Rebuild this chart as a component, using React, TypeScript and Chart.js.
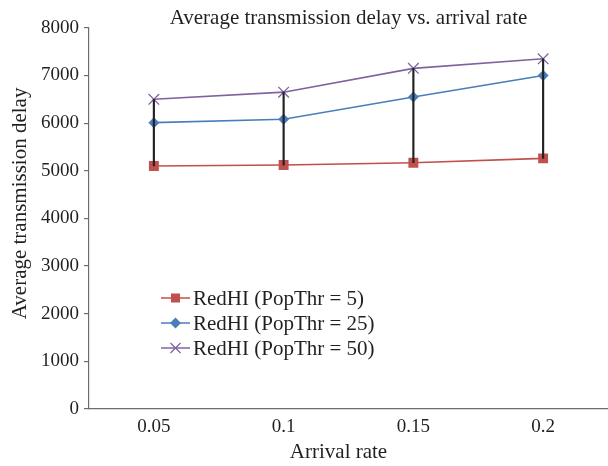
import React, { useEffect, useRef } from "react";
import { Chart, registerables } from "chart.js";

Chart.register(...registerables);

const categories = ["0.05", "0.1", "0.15", "0.2"];
const popThr5 = [5100, 5120, 5170, 5260];
const popThr25 = [6010, 6080, 6550, 7000];
const popThr50 = [6500, 6650, 7150, 7350];
const yTickValues = [0, 1000, 2000, 3000, 4000, 5000, 6000, 7000, 8000];

const seriesLabels = ["RedHI (PopThr = 5)", "RedHI (PopThr = 25)", "RedHI (PopThr = 50)"];
const seriesColors = ["#C0504D", "#4A7EBB", "#7F63A1"];
const xAxisTitle = "Arrival rate";
const yAxisTitle = "Average transmission delay";
const chartTitle = "Average transmission delay vs. arrival rate";

const FONT = "'Liberation Serif', 'DejaVu Serif', serif";
const TEXT = "#231F20";

function drawMarker(ctx: CanvasRenderingContext2D, style: string, x: number, y: number, color: string) {
  ctx.save();
  if (style === "rect") {
    ctx.fillStyle = color;
    ctx.fillRect(x - 4.5, y - 4.5, 9, 9);
  } else if (style === "rectRot") {
    ctx.fillStyle = color;
    ctx.beginPath();
    ctx.moveTo(x, y - 5.5);
    ctx.lineTo(x + 5.5, y);
    ctx.lineTo(x, y + 5.5);
    ctx.lineTo(x - 5.5, y);
    ctx.closePath();
    ctx.fill();
  } else {
    ctx.strokeStyle = color;
    ctx.lineWidth = 1.3;
    ctx.beginPath();
    ctx.moveTo(x - 5, y - 5);
    ctx.lineTo(x + 5, y + 5);
    ctx.moveTo(x + 5, y - 5);
    ctx.lineTo(x - 5, y + 5);
    ctx.stroke();
  }
  ctx.restore();
}

const textPlugin = {
  id: "textPlugin",
  afterDraw(chart: any) {
    const ctx = chart.ctx as CanvasRenderingContext2D;
    const area = chart.chartArea;
    ctx.save();
    ctx.fillStyle = TEXT;
    ctx.font = `21px ${FONT}`;
    ctx.textBaseline = "middle";
    ctx.textAlign = "center";
    // axis titles
    ctx.fillText(xAxisTitle, (area.left + area.right) / 2 - 10, 452);
    ctx.save();
    ctx.translate(20, (area.top + area.bottom) / 2 - 15);
    ctx.rotate(-Math.PI / 2);
    ctx.fillText(yAxisTitle, 0, 0);
    ctx.restore();

    // legend inside plot
    const styles = ["rect", "rectRot", "crossRot"];
    const x0 = 161;
    const y0 = 298;
    const rowH = 25;
    ctx.textAlign = "left";
    seriesLabels.forEach((label, i) => {
      const y = y0 + i * rowH;
      ctx.strokeStyle = seriesColors[i];
      ctx.lineWidth = 1.5;
      ctx.beginPath();
      ctx.moveTo(x0, y);
      ctx.lineTo(x0 + 29, y);
      ctx.stroke();
      drawMarker(ctx, styles[i], x0 + 14.5, y, seriesColors[i]);
      ctx.fillStyle = TEXT;
      ctx.fillText(label, x0 + 32, y + 1);
    });
    ctx.restore();
  },
};

export default function App() {
  const canvasRef = useRef<HTMLCanvasElement | null>(null);

  useEffect(() => {
    if (!canvasRef.current) return;
    const chart = new Chart(canvasRef.current, {
      type: "line",
      data: {
        labels: categories,
        datasets: [
          {
            type: "bar",
            label: "high-low",
            data: popThr5.map((v, i) => [v, popThr50[i]]) as any,
            backgroundColor: "#222222",
            barThickness: 1.5,
            order: 0,
          } as any,
          {
            label: seriesLabels[0],
            data: popThr5,
            borderColor: seriesColors[0],
            backgroundColor: seriesColors[0],
            borderWidth: 1.6,
            pointStyle: "rect",
            pointRadius: 7,
            pointBorderWidth: 0,
            tension: 0,
            order: 1,
          },
          {
            label: seriesLabels[1],
            data: popThr25,
            borderColor: seriesColors[1],
            backgroundColor: seriesColors[1],
            borderWidth: 1.6,
            pointStyle: "rectRot",
            pointRadius: 5.5,
            pointBorderWidth: 0,
            tension: 0,
            order: 1,
          },
          {
            label: seriesLabels[2],
            data: popThr50,
            borderColor: seriesColors[2],
            backgroundColor: seriesColors[2],
            borderWidth: 1.6,
            pointStyle: "crossRot",
            pointRadius: 7.5,
            pointBorderWidth: 1.3,
            tension: 0,
            order: 1,
          },
        ],
      },
      options: {
        responsive: true,
        maintainAspectRatio: false,
        animation: false,
        layout: { autoPadding: false, padding: { left: 0, right: 0, top: 0, bottom: 0 } },
        plugins: {
          legend: { display: false },
          tooltip: { enabled: false },
          title: {
            display: true,
            fullSize: false,
            text: chartTitle,
            color: TEXT,
            font: { family: FONT, size: 21, weight: "normal", lineHeight: 0.85 },
            padding: { top: 10, bottom: 0 },
          },
        },
        scales: {
          x: {
            offset: true,
            grid: { display: false, drawTicks: false },
            border: { display: true, color: "#6D6E71", width: 1.2 },
            ticks: {
              color: TEXT,
              font: { family: FONT, size: 19 },
              padding: 7,
              maxRotation: 0,
            },
            title: { display: false },
            afterFit(scale: any) {
              scale.height = 57;
              scale.paddingLeft = 0;
              scale.paddingRight = 0;
            },
          },
          y: {
            min: 0,
            max: 8000,
            afterBuildTicks(scale: any) {
              scale.ticks = yTickValues.map((v) => ({ value: v }));
            },
            grid: {
              drawOnChartArea: false,
              drawTicks: true,
              tickLength: 5,
              color: "#6D6E71",
              lineWidth: 1.2,
            },
            border: { display: true, color: "#6D6E71", width: 1.2 },
            ticks: {
              color: TEXT,
              font: { family: FONT, size: 19 },
              padding: 5,
              callback: (v: any) => String(v),
            },
            title: { display: false },
            afterFit(scale: any) {
              scale.width = 89;
            },
          },
        },
      },
      plugins: [textPlugin],
    });
    return () => chart.destroy();
  }, []);

  return (
    <div style={{ position: "fixed", left: 0, top: 0, width: 608, height: 466, background: "#fff" }}>
      <canvas ref={canvasRef} />
    </div>
  );
}
